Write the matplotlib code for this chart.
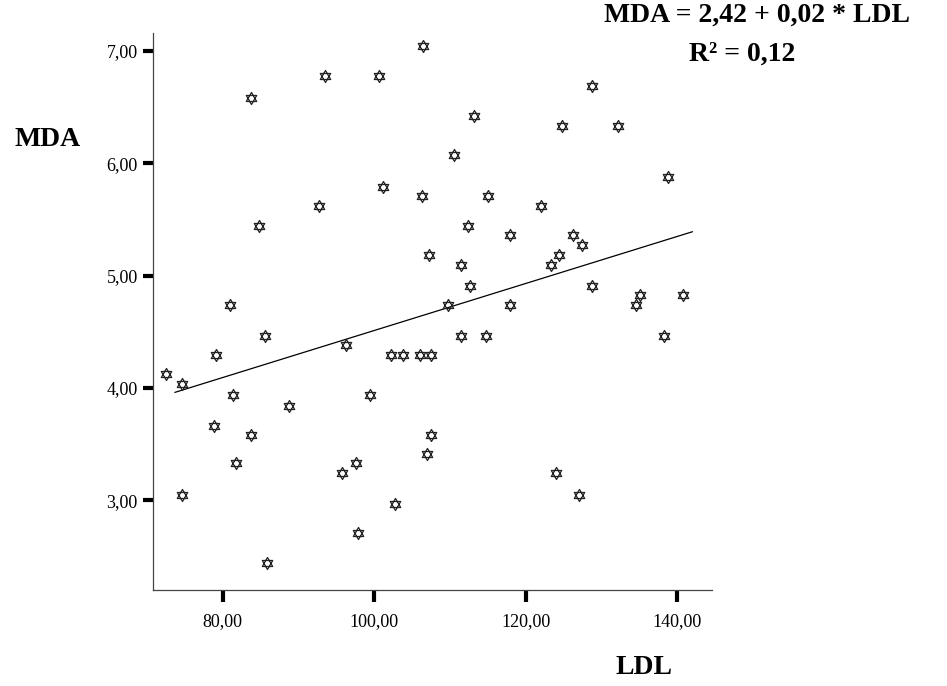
import numpy as np
import matplotlib.pyplot as plt
from matplotlib.path import Path
from matplotlib.ticker import FuncFormatter

ldl = [72.5, 74.6, 74.6, 78.9, 79.1, 80.9, 81.3, 81.8, 83.8, 83.8,
       84.8, 85.9, 85.6, 88.7, 92.7, 93.5, 95.8, 96.3, 97.6, 97.8,
       99.4, 100.6, 101.2, 102.2, 103.8, 106.1, 107.5, 102.7, 106.3, 106.5,
       107.0, 107.5, 107.3, 109.7, 110.6, 111.4, 111.5, 112.4, 112.6, 113.2,
       114.8, 115.0, 117.9, 117.9, 122.0, 123.4, 124.4, 124.0, 124.8, 126.2,
       127.5, 127.1, 128.8, 128.8, 132.2, 134.6, 135.1, 138.2, 138.8, 140.8]
mda = [4.12, 4.03, 3.05, 3.66, 4.29, 4.74, 3.94, 3.33, 3.58, 6.58,
       5.44, 2.44, 4.46, 3.84, 5.62, 6.78, 3.24, 4.38, 3.33, 2.71,
       3.94, 6.78, 5.79, 4.29, 4.29, 4.29, 4.29, 2.97, 5.71, 7.04,
       3.41, 3.58, 5.18, 4.74, 6.07, 5.09, 4.46, 5.44, 4.91, 6.42,
       4.46, 5.71, 4.74, 5.36, 5.62, 5.09, 5.18, 3.24, 6.33, 5.36,
       5.27, 3.05, 6.69, 4.91, 6.33, 4.74, 4.83, 4.46, 5.88, 4.83]

# linea de ajuste (MDA = 2,42 + 0,02 * LDL)
fit_ldl = [73.7, 142.0]
fit_mda = [3.96, 5.39]

x_ticks = [80, 100, 120, 140]
y_ticks = [3, 4, 5, 6, 7]

plt.rcParams['font.family'] = ['Liberation Serif', 'DejaVu Serif']

# marcador estrella de David (dos triángulos)
c, s = np.cos(np.pi / 6), 0.5
verts = [(0, 1), (-c, -s), (c, -s), (0, 1),
         (0, -1), (-c, s), (c, s), (0, -1)]
codes = [Path.MOVETO, Path.LINETO, Path.LINETO, Path.CLOSEPOLY] * 2
estrella = Path(verts, codes)

fig = plt.figure(figsize=(9.47, 6.86), dpi=100)
ax = fig.add_axes([153 / 947, 1 - 590 / 686, (712 - 153) / 947, (590 - 33) / 686])

ax.scatter(ldl, mda, marker=estrella, s=75, facecolors='white',
           edgecolors='#222222', linewidths=0.9, zorder=3)
ax.plot(fit_ldl, fit_mda, color='black', linewidth=0.9, zorder=2)

ax.set_xlim(70.8, 144.6)
ax.set_ylim(2.2, 7.16)
ax.set_xticks(x_ticks)
ax.set_yticks(y_ticks)
coma = FuncFormatter(lambda v, p: f"{v:.2f}".replace('.', ','))
ax.xaxis.set_major_formatter(coma)
ax.yaxis.set_major_formatter(coma)

for lado in ['top', 'right']:
    ax.spines[lado].set_visible(False)
for lado in ['left', 'bottom']:
    ax.spines[lado].set_color('#444444')
    ax.spines[lado].set_linewidth(0.9)

ax.tick_params(axis='x', direction='out', length=8.5, width=3, color='black',
               labelsize=13, pad=8)
ax.tick_params(axis='y', direction='out', length=7, width=3, color='black',
               labelsize=13, pad=4)

fig.text(48 / 947, 1 - 139 / 686, 'MDA', fontsize=20, fontweight='bold',
         ha='center', va='center')
fig.text(644 / 947, 1 - 668 / 686, 'LDL', fontsize=20, fontweight='bold',
         ha='center', va='center')
fig.text(757 / 947, 1 - 15 / 686, 'MDA = 2,42 + 0,02 * LDL', fontsize=20,
         fontweight='bold', ha='center', va='center')
fig.text(742 / 947, 1 - 54 / 686, 'R² = 0,12', fontsize=20,
         fontweight='bold', ha='center', va='center')

fig.savefig('out.png', dpi=100)
